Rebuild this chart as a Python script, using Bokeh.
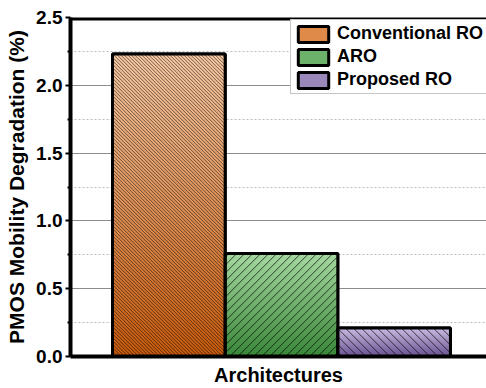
from bokeh.plotting import figure
from bokeh.models import (Range1d, FixedTicker, Legend, LegendItem,
                          Span, CustomJSTickFormatter)
from bokeh.embed import file_html
from bokeh.resources import INLINE

# Data
architectures = ["Conventional RO", "ARO", "Proposed RO"]
degradation = [2.23, 0.76, 0.21]
y_ticks = [0.0, 0.5, 1.0, 1.5, 2.0, 2.5]
y_minor_ticks = [0.25, 0.75, 1.25, 1.75, 2.25]

# Styling per bar: light (top) and dark (bottom) gradient ends, hatching
top_colors = ["#f8cba6", "#a8daa2", "#cbbde3"]
bottom_colors = ["#c85a0c", "#388638", "#6a5292"]
mid_colors = ["#e08a4a", "#6cb26a", "#9a88bb"]
hatches = ["\\", "/", "\\"]
hatch_gaps = [3.5, 8.0, 8.0]          # px between hatch lines
hatch_alphas = [0.55, 0.7, 0.7]

FONT = "Liberation Sans"
x_pos = [1, 2, 3]
X0, X1, Y0, Y1 = 0.127, 3.82, 0.0, 2.5
W_FIG, H_FIG = 486, 388
B_LEFT, B_RIGHT, B_TOP, B_BOTTOM = 70, 0, 17, 32

p = figure(width=W_FIG, height=H_FIG, output_backend="svg", toolbar_location=None,
           x_range=Range1d(X0, X1), y_range=Range1d(Y0, Y1),
           min_border_left=B_LEFT, min_border_right=B_RIGHT,
           min_border_top=B_TOP, min_border_bottom=B_BOTTOM,
           outline_line_color=None)

# pixels per data unit, used to keep the hatching at 45 degrees on screen
px_x = (W_FIG - B_LEFT - B_RIGHT) / (X1 - X0)
px_y = (H_FIG - B_TOP - B_BOTTOM) / (Y1 - Y0)

# grids
p.xgrid.visible = False
p.ygrid.ticker = FixedTicker(ticks=y_ticks, minor_ticks=y_minor_ticks)
p.ygrid.grid_line_color = "#8c8c8c"
p.ygrid.grid_line_width = 1
p.ygrid.minor_grid_line_color = "#bdbdbd"
p.ygrid.minor_grid_line_dash = "2 2"
p.ygrid.minor_grid_line_width = 1

# y axis
ya = p.yaxis[0]
ya.ticker = FixedTicker(ticks=y_ticks, minor_ticks=y_minor_ticks)
ya.formatter = CustomJSTickFormatter(code="return tick.toFixed(1);")
ya.axis_label = "PMOS Mobility Degradation (%)"
ya.axis_label_text_font = FONT
ya.axis_label_text_font_style = "bold"
ya.axis_label_text_font_size = "21px"
ya.axis_label_text_color = "black"
ya.axis_label_standoff = 5
ya.major_label_text_font = FONT
ya.major_label_text_font_style = "bold"
ya.major_label_text_font_size = "19px"
ya.major_label_text_color = "black"
ya.major_label_standoff = 3
ya.axis_line_color = "black"
ya.axis_line_width = 4
ya.major_tick_line_color = "black"
ya.minor_tick_line_color = "black"
ya.major_tick_line_width = 2
ya.minor_tick_line_width = 2
ya.major_tick_out = 5
ya.major_tick_in = 0
ya.minor_tick_out = 3
ya.minor_tick_in = 0

# x axis
xa = p.xaxis[0]
xa.ticker = FixedTicker(ticks=[-10])
xa.major_label_text_font_size = "0px"
xa.major_tick_line_color = None
xa.minor_tick_line_color = None
xa.axis_line_color = "black"
xa.axis_line_width = 4
xa.axis_label = "Architectures"
xa.axis_label_text_font = FONT
xa.axis_label_text_font_style = "bold"
xa.axis_label_text_font_size = "20px"
xa.axis_label_text_color = "black"
xa.axis_label_standoff = 7

# top border line (half of it falls inside the frame)
p.add_layout(Span(location=Y1, dimension="width", line_color="black",
                  line_width=6))

# legend-carrying bars (covered by the gradient below)
legend_rs = []
for i in range(3):
    r = p.vbar(x=[x_pos[i]], top=[degradation[i]], width=1.0, bottom=0,
               fill_color=mid_colors[i], line_color="black", line_width=3)
    legend_rs.append(r)

# vertical gradient bands inside each bar
N = 60
def lerp(c1, c2, t):
    a = [int(c1[k:k + 2], 16) for k in (1, 3, 5)]
    b = [int(c2[k:k + 2], 16) for k in (1, 3, 5)]
    return "#%02x%02x%02x" % tuple(round(a[j] + (b[j] - a[j]) * t) for j in range(3))

lefts, rights, bots, tops, cols = [], [], [], [], []
for i in range(3):
    h = degradation[i]
    for k in range(N):
        lefts.append(x_pos[i] - 0.5)
        rights.append(x_pos[i] + 0.5)
        bots.append(h * k / N)
        tops.append(h * (k + 1) / N)
        cols.append(lerp(bottom_colors[i], top_colors[i], (k + 0.5) / N))
p.quad(left=lefts, right=rights, bottom=bots, top=tops, fill_color=cols,
       line_color=cols, line_width=0.5)

# diagonal hatching clipped to each bar
for i in range(3):
    bx0 = x_pos[i] - 0.5
    W = 1.0 * px_x
    H = degradation[i] * px_y
    g = hatch_gaps[i]
    xs0, ys0, xs1, ys1 = [], [], [], []
    if hatches[i] == "\\":
        c = g / 2
        while c < W + H:
            a = max(0.0, c - H)
            b = min(W, c)
            if b > a:
                xs0.append(bx0 + a / px_x); ys0.append((c - a) / px_y)
                xs1.append(bx0 + b / px_x); ys1.append((c - b) / px_y)
            c += g
    else:
        c = -W + g / 2
        while c < H:
            a = max(0.0, -c)
            b = min(W, H - c)
            if b > a:
                xs0.append(bx0 + a / px_x); ys0.append((a + c) / px_y)
                xs1.append(bx0 + b / px_x); ys1.append((b + c) / px_y)
            c += g
    p.segment(x0=xs0, y0=ys0, x1=xs1, y1=ys1, line_color="black",
              line_width=1, line_alpha=hatch_alphas[i])

# bar outlines
p.vbar(x=x_pos, top=degradation, width=1.0, bottom=0, fill_color=None,
       line_color="black", line_width=3)

legend = Legend(items=[LegendItem(label=architectures[i], renderers=[legend_rs[i]])
                       for i in range(3)],
                location=(220, 262), orientation="vertical")
legend.label_text_font = FONT
legend.label_text_font_style = "bold"
legend.label_text_font_size = "18px"
legend.label_text_color = "black"
legend.glyph_width = 38
legend.glyph_height = 20
legend.label_height = 20
legend.spacing = 2
legend.padding = 3
legend.margin = 0
legend.label_standoff = 5
legend.border_line_color = "#8c8c8c"
legend.border_line_width = 1
legend.background_fill_color = "white"
legend.background_fill_alpha = 1
p.add_layout(legend, "center")

open("out.html", "w").write(file_html(p, INLINE))
